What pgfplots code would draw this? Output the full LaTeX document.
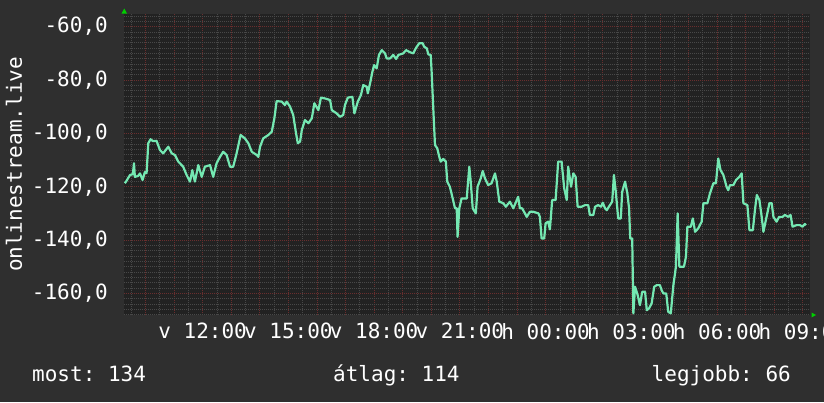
\documentclass[border=0pt]{standalone}
\usepackage{fontspec}
\setmainfont{DejaVu Sans Mono}
\usepackage{pgfplots}
\pgfplotsset{compat=1.18}
\frenchspacing
\definecolor{outerbg}{HTML}{2F2F2F}
\definecolor{canvasbg}{HTML}{222222}
\definecolor{linec}{HTML}{74E8B2}
\definecolor{majgrid}{HTML}{6A2E2E}
\definecolor{mingrid}{HTML}{484848}
\definecolor{arrowc}{HTML}{00D000}
\newcommand\rrdfont{\fontsize{21}{25}\selectfont}
\pgfplotstableread{
t v
9.28 -118.7
9.32 -118.1
9.46 -115.6
9.56 -115.3
9.60 -111.2
9.63 -116.3
9.74 -116.0
9.81 -115.0
9.90 -117.5
9.98 -114.5
10.04 -114.9
10.10 -103.7
10.18 -102.2
10.26 -102.9
10.39 -102.8
10.44 -104.3
10.51 -106.3
10.62 -107.5
10.80 -105.0
10.92 -107.5
11.03 -108.1
11.15 -110.6
11.32 -112.5
11.44 -115.6
11.56 -118.1
11.64 -113.8
11.73 -118.1
11.85 -111.9
11.97 -116.3
12.08 -112.5
12.26 -111.9
12.37 -116.3
12.49 -111.2
12.61 -108.8
12.72 -106.9
12.84 -108.1
12.96 -112.5
13.07 -112.5
13.19 -107.5
13.33 -100.6
13.48 -101.9
13.60 -103.7
13.72 -106.9
13.89 -108.1
13.95 -108.8
14.01 -105.0
14.12 -101.9
14.30 -100.6
14.42 -99.4
14.51 -94.4
14.59 -87.9
14.77 -88.1
14.88 -89.4
14.94 -88.1
15.06 -90.0
15.17 -93.1
15.26 -99.4
15.33 -103.7
15.41 -103.1
15.47 -98.8
15.58 -95.0
15.70 -96.2
15.82 -94.4
15.91 -88.7
16.05 -91.3
16.14 -86.6
16.28 -86.9
16.46 -87.5
16.52 -91.3
16.69 -92.5
16.81 -93.8
16.92 -93.1
16.98 -89.4
17.08 -86.6
17.24 -86.3
17.31 -92.5
17.43 -88.1
17.54 -85.6
17.62 -81.9
17.74 -82.5
17.78 -85.0
17.86 -81.2
17.94 -76.9
18.00 -74.4
18.09 -75.6
18.17 -70.6
18.27 -68.8
18.38 -70.0
18.44 -71.9
18.56 -71.9
18.67 -70.6
18.77 -72.1
18.85 -70.6
19.02 -70.0
19.12 -68.8
19.26 -69.6
19.37 -70.0
19.47 -67.9
19.58 -66.2
19.70 -66.2
19.75 -67.5
19.84 -68.1
19.90 -70.4
19.98 -70.6
20.01 -76.3
20.07 -90.6
20.13 -104.4
20.21 -105.6
20.28 -108.8
20.33 -110.6
20.42 -109.6
20.51 -110.6
20.56 -118.1
20.65 -120.0
20.75 -124.4
20.83 -128.1
20.89 -128.1
20.92 -138.8
20.98 -128.1
21.06 -124.4
21.24 -124.4
21.33 -112.5
21.38 -118.1
21.45 -128.1
21.56 -130.0
21.62 -120.0
21.73 -116.9
21.80 -114.1
21.88 -116.9
21.99 -119.4
22.11 -118.7
22.23 -115.0
22.29 -118.1
22.38 -125.6
22.52 -126.2
22.61 -127.5
22.75 -125.6
22.87 -128.1
23.04 -123.8
23.10 -128.1
23.18 -128.1
23.34 -131.3
23.45 -129.4
23.57 -129.4
23.75 -130.0
23.80 -131.3
23.86 -139.4
23.95 -139.4
24.00 -133.7
24.09 -133.1
24.15 -136.0
24.23 -125.0
24.35 -125.0
24.44 -110.6
24.56 -110.6
24.65 -120.6
24.74 -125.0
24.79 -112.5
24.89 -120.0
24.97 -115.0
25.05 -116.3
25.12 -127.5
25.26 -127.5
25.38 -126.9
25.49 -126.9
25.55 -130.6
25.67 -130.6
25.73 -127.5
25.84 -126.9
25.94 -127.5
26.00 -126.0
26.08 -128.1
26.14 -128.8
26.25 -126.9
26.33 -125.6
26.39 -115.6
26.45 -121.3
26.54 -131.9
26.63 -131.9
26.68 -121.9
26.78 -118.1
26.86 -122.5
26.92 -128.1
26.96 -139.4
27.03 -139.4
27.07 -167.5
27.13 -157.5
27.22 -160.6
27.30 -164.4
27.38 -159.4
27.48 -159.4
27.54 -166.3
27.62 -165.6
27.71 -163.7
27.80 -157.5
27.89 -156.9
28.00 -156.9
28.06 -158.8
28.12 -160.0
28.22 -160.0
28.29 -166.9
28.38 -167.5
28.47 -156.9
28.56 -150.0
28.62 -130.0
28.68 -150.0
28.84 -150.0
28.91 -146.3
28.96 -135.0
29.08 -135.0
29.15 -131.9
29.23 -136.9
29.34 -135.6
29.46 -133.1
29.52 -126.2
29.66 -126.2
29.75 -122.5
29.87 -118.7
29.96 -118.7
30.04 -109.4
30.12 -113.8
30.22 -115.6
30.33 -120.0
30.39 -121.3
30.45 -119.4
30.57 -119.4
30.66 -117.5
30.78 -116.3
30.86 -115.0
30.92 -126.2
31.06 -126.9
31.13 -136.3
31.25 -136.3
31.33 -128.1
31.39 -123.1
31.48 -125.0
31.56 -131.3
31.62 -136.9
31.73 -131.3
31.83 -126.2
31.91 -126.2
31.97 -131.3
32.08 -133.1
32.17 -131.3
32.29 -131.3
32.37 -130.6
32.49 -131.3
32.57 -130.6
32.64 -135.0
32.78 -134.4
32.90 -134.4
32.99 -135.0
33.07 -134.0
33.11 -134.4
}\datatable
\begin{document}
\begin{tikzpicture}
\useasboundingbox (0,0) rectangle (824pt,-402pt);
\clip (0,0) rectangle (824pt,-402pt);
\fill[outerbg] (0,0) rectangle (824pt,-402pt);
\begin{axis}[
  at={(124pt,-315pt)}, anchor=south west,
  scale only axis, width=686pt, height=301pt,
  xmin=9.25, xmax=33.25, ymin=-168.1, ymax=-55.25,
  axis background/.style={fill=canvasbg},
  axis line style={draw=none},
  xtick={10,...,33},
  xticklabels={,,v 12:00,,,v 15:00,,,v 18:00,,,v 21:00,,,h 00:00,,,h 03:00,,,h 06:00,,,h 09:00},
  minor xtick={9.5,10.5,...,32.5},
  ytick={-160,-140,...,-60},
  yticklabels={{-160,0},{-140,0},{-120,0},{-100,0},{-80,0},{-60,0}},
  minor ytick={-168,-166,-164,-162,-158,-156,-154,-152,-150,-148,-146,-144,-142,-138,-136,-134,-132,-130,-128,-126,-124,-122,-118,-116,-114,-112,-110,-108,-106,-104,-102,-98,-96,-94,-92,-90,-88,-86,-84,-82,-78,-76,-74,-72,-70,-68,-66,-64,-62,-58,-56},
  major tick length=0pt, minor tick length=0pt,
  grid=both,
  minor grid style={mingrid, dash pattern=on 1pt off 1pt, line width=0.7pt},
  major grid style={majgrid, dash pattern=on 1pt off 1pt, line width=0.8pt},
  tick label style={font=\rrdfont, text=white, inner sep=0pt},
  xticklabel style={anchor=north, yshift=-8pt},
  yticklabel style={anchor=east, xshift=-16pt},
  ylabel={onlinestream.live},
  every axis y label/.style={at={([xshift=-110pt]axis description cs:0,0.5)}, rotate=90, anchor=center, font=\rrdfont, text=white},
]
\addplot[linec, line width=2.2pt, line join=round] table[x=t, y=v] {\datatable};
\end{axis}
\fill[arrowc] (121.5pt,-13.5pt) -- (127pt,-13.5pt) -- (124.3pt,-8.5pt) -- cycle;
\fill[arrowc] (811.5pt,-312.5pt) -- (811.5pt,-317.5pt) -- (816pt,-315pt) -- cycle;
\node[anchor=base west, inner sep=0pt, font=\rrdfont, text=white] at (32pt,-381pt) {most: 134};
\node[anchor=base west, inner sep=0pt, font=\rrdfont, text=white] at (333pt,-381pt) {átlag: 114};
\node[anchor=base east, inner sep=0pt, font=\rrdfont, text=white] at (791pt,-381pt) {legjobb: 66};
\end{tikzpicture}
\end{document}
